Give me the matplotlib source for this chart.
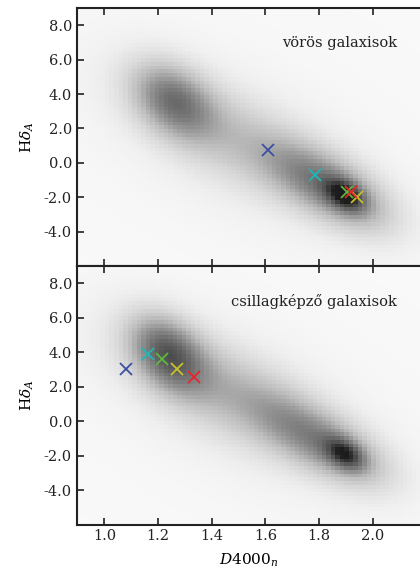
import numpy as np
import matplotlib
matplotlib.use("Agg")
from matplotlib import pyplot as plt

plt.rcParams['font.family'] = ['DejaVu Serif']
plt.rcParams['mathtext.fontset'] = 'dejavuserif'

# marker positions (D4000_n, HdA)
colors = ['#3b4fa3', '#1fb7b7', '#5db83e', '#c9c12a', '#e8242b']
red_x = [1.611, 1.787, 1.904, 1.943, 1.919]
red_y = [0.74, -0.72, -1.72, -2.01, -1.69]
sf_x = [1.080, 1.163, 1.216, 1.269, 1.334]
sf_y = [3.00, 3.88, 3.59, 3.05, 2.57]

# density background: blobs (cx, cy, sx, sy, rho, amp)
red_cx = [1.25, 1.50, 1.76, 1.90, 1.91, 1.50]
red_cy = [3.70, 1.30, -0.70, -1.95, -2.10, 1.00]
red_sx = [0.11, 0.26, 0.14, 0.05, 0.14, 0.45]
red_sy = [1.60, 2.60, 1.60, 0.65, 1.60, 4.50]
red_rho = [-0.35, -0.65, -0.55, -0.4, -0.5, -0.6]
red_amp = [0.42, 0.19, 0.21, 0.42, 0.30, 0.09]

sf_cx = [1.23, 1.45, 1.72, 1.90, 1.90, 1.50]
sf_cy = [4.00, 1.80, -0.30, -1.95, -2.05, 1.00]
sf_sx = [0.10, 0.26, 0.14, 0.05, 0.14, 0.45]
sf_sy = [1.60, 2.60, 1.60, 0.65, 1.50, 4.50]
sf_rho = [-0.35, -0.65, -0.55, -0.4, -0.5, -0.6]
sf_amp = [0.48, 0.24, 0.21, 0.40, 0.28, 0.09]

labels = ['vörös galaxisok', 'csillagképző galaxisok']

xlo, xhi = 0.897, 2.177
ylo, yhi = -6.0, 9.0


def density(cx, cy, sx, sy, rho, amp):
    xe = np.arange(0.85, 2.25, 0.017)
    ye = np.arange(-6.5, 9.5, 0.22)
    X, Y = np.meshgrid(xe, ye)
    D = np.zeros_like(X)
    for i in range(len(cx)):
        u = (X - cx[i]) / sx[i]
        v = (Y - cy[i]) / sy[i]
        q = (u * u - 2 * rho[i] * u * v + v * v) / (1 - rho[i] ** 2)
        D += amp[i] * np.exp(-0.5 * q)
    D = np.clip(D + 0.05, 0, 0.9)
    return D, (xe[0], xe[-1], ye[0], ye[-1])


fig = plt.figure(figsize=(4.2, 5.85), dpi=100)
ax1 = fig.add_axes([0.183, 0.5453, 0.817, 0.4410])
ax2 = fig.add_axes([0.183, 0.1034, 0.817, 0.4419])

panels = [(ax1, red_cx, red_cy, red_sx, red_sy, red_rho, red_amp, red_x, red_y),
          (ax2, sf_cx, sf_cy, sf_sx, sf_sy, sf_rho, sf_amp, sf_x, sf_y)]

for k, (ax, cx, cy, sx, sy, rho, amp, mx, my) in enumerate(panels):
    D, ext = density(cx, cy, sx, sy, rho, amp)
    ax.imshow(D, origin='lower', extent=ext, cmap='Greys', vmin=0, vmax=1,
              aspect='auto', interpolation='nearest')
    for i in range(len(mx)):
        ax.plot(mx[i], my[i], 'x', color=colors[i], markersize=9, mew=1.3)
    ax.set_xlim(xlo, xhi)
    ax.set_ylim(ylo, yhi)
    ax.set_xticks([1.0, 1.2, 1.4, 1.6, 1.8, 2.0])
    ax.set_yticks([-4, -2, 0, 2, 4, 6, 8])
    ax.set_yticklabels(['%.1f' % t for t in [-4, -2, 0, 2, 4, 6, 8]])
    ax.tick_params(direction='in', top=True, bottom=True, length=5, width=1.2,
                   labelsize=10.5, colors='#222222')
    ax.spines['right'].set_visible(False)
    for s in ['left', 'top', 'bottom']:
        ax.spines[s].set_linewidth(1.5)
        ax.spines[s].set_color('#222222')
    ax.set_ylabel(r'H$\delta_A$', fontsize=11, labelpad=6)
    ax.text(0.933, 0.864, labels[k], transform=ax.transAxes, ha='right',
            va='center', fontsize=10.5, color='#222222')

ax1.tick_params(labelbottom=False)
ax2.set_xticklabels(['%.1f' % t for t in [1.0, 1.2, 1.4, 1.6, 1.8, 2.0]])
ax2.set_xlabel(r'$D4000_n$', fontsize=11, labelpad=6)

fig.savefig('out.png', dpi=100)
